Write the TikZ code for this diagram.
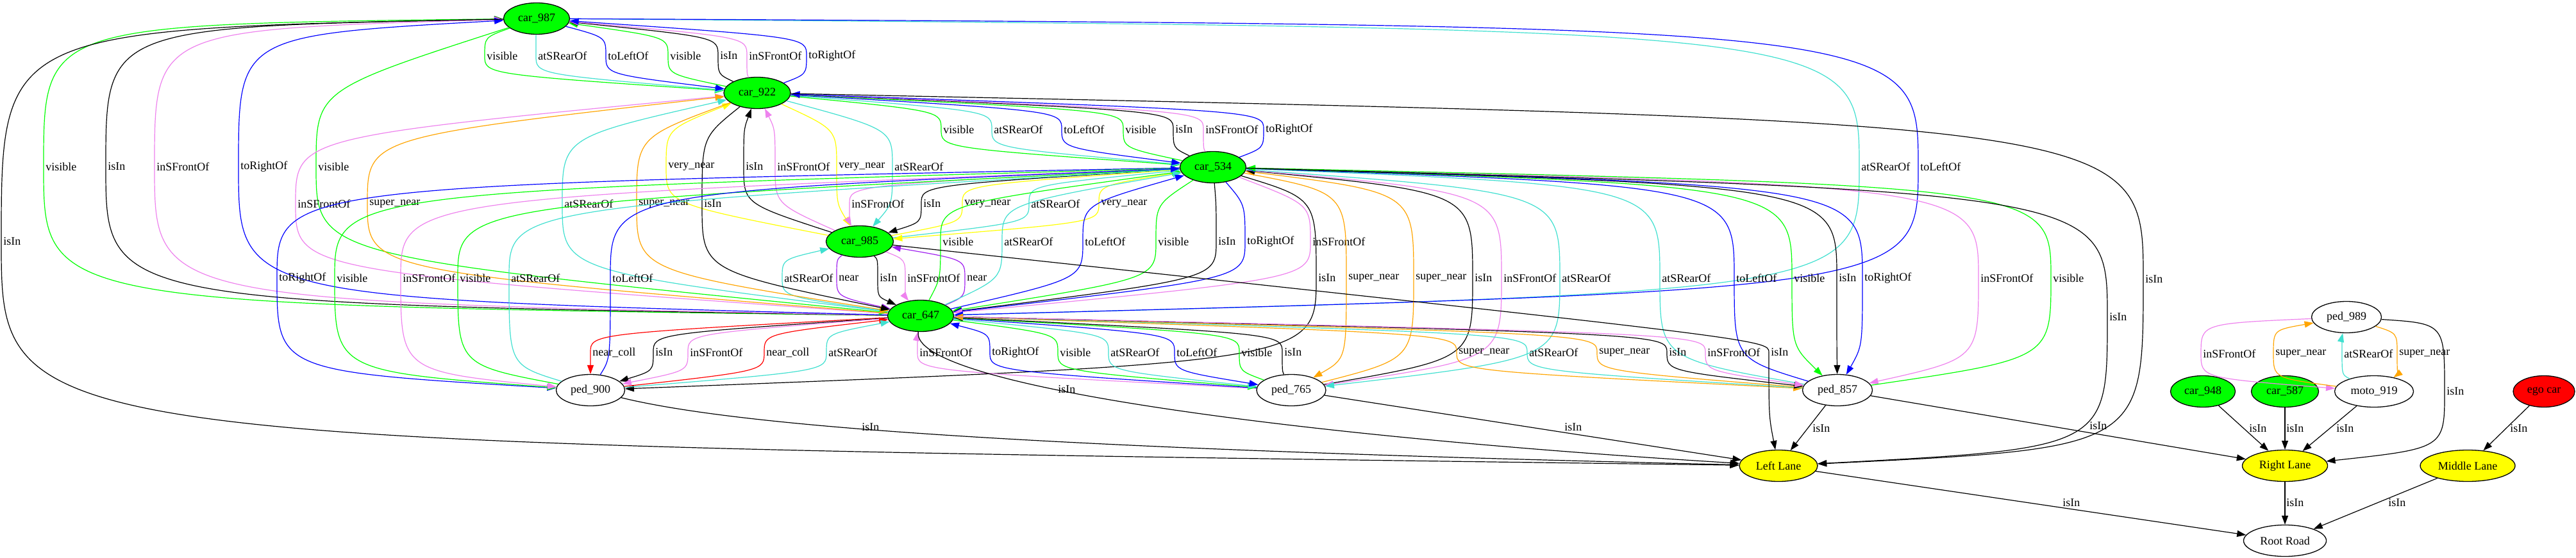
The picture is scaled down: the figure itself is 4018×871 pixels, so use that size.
\documentclass[tikz,border=0pt]{standalone}
\usepackage{fontspec}
\setmainfont{Liberation Serif}
\usetikzlibrary{arrows.meta,shapes.geometric}
\definecolor{gcol}{HTML}{00FF00}
\definecolor{tq}{HTML}{40E0D0}
\definecolor{vio}{HTML}{EE82EE}
\definecolor{org}{HTML}{FFA500}
\definecolor{pur}{HTML}{A020F0}
\definecolor{ylw}{HTML}{FFFF00}
\definecolor{blu}{HTML}{0000FF}
\definecolor{rd}{HTML}{FF0000}
\tikzset{
 nd/.style={ellipse, draw=black, line width=0.65pt, minimum height=24.5pt, inner sep=0pt, font=\fontsize{9}{10}\selectfont},
 gn/.style={nd, fill=gcol},
 yn/.style={nd, fill=ylw},
 rn/.style={nd, fill=rd},
 wn/.style={nd, fill=white},
 lab/.style={anchor=west, inner xsep=1.5pt, inner ysep=0pt, font=\fontsize{9}{10}\selectfont},
 rel/.style={line width=0.6pt, -{Triangle[length=7pt,width=5pt]}},
}
% #1 colour, #2 source, #3 label name, #4 x, #5 y, #6 text, #7 target, #8 ctrl y1, #9 ctrl y2
\newcommand{\REL}[9]{%
  \node[lab] (#3) at (#4,#5) {#6};
  \draw[rel,#1] (#2) .. controls (#4,#8) .. (#3.west) .. controls (#4,#9) .. (#7);
}
\begin{document}
\begin{tikzpicture}[x=0.5pt,y=-0.5pt]
\fill[white] (0,0) rectangle (4018,871);
\useasboundingbox (0,0) rectangle (4018,871);
% nodes
\node[gn, minimum width=51.5pt] (c987) at (837,29) {car\_987};
\node[gn, minimum width=52pt] (c922) at (1181,145) {car\_922};
\node[gn, minimum width=51.5pt] (c534) at (1892,261) {car\_534};
\node[gn, minimum width=52.5pt] (c985) at (1341,377) {car\_985};
\node[gn, minimum width=51.5pt] (c647) at (1436,493) {car\_647};
\node[wn, minimum width=53.5pt] (p900) at (921,609) {ped\_900};
\node[wn, minimum width=54pt] (p765) at (2014,609) {ped\_765};
\node[wn, minimum width=54.5pt] (p857) at (2866,609) {ped\_857};
\node[yn, minimum width=61pt] (LL) at (2774,727) {Left Lane};
\node[yn, minimum width=66.5pt] (RL) at (3564,727) {Right Lane};
\node[yn, minimum width=74pt] (ML) at (3849,727) {Middle Lane};
\node[wn, minimum width=64.5pt] (RR) at (3564,844) {Root Road};
\node[gn, minimum width=50.5pt] (c948) at (3436,611) {car\_948};
\node[gn, minimum width=52.5pt] (c587) at (3564,611) {car\_587};
\node[wn, minimum width=61.5pt] (m919) at (3703,611) {moto\_919};
\node[wn, minimum width=54.5pt] (p989) at (3660,495) {ped\_989};
\node[rn, minimum width=48pt] (ego) at (3968,611) {ego car};
% A
\REL{gcol}{c987}{l1}{756}{87}{visible}{c922}{58}{116}
\REL{tq}{c987}{l2}{836}{87}{atSRearOf}{c922}{58}{116}
\REL{blu}{c987}{l3}{945}{87}{toLeftOf}{c922}{58}{116}
\REL{gcol}{c922}{l4}{1042}{87}{visible}{c987}{116}{58}
\REL{black}{c922}{l5}{1120}{87}{isIn}{c987}{116}{58}
\REL{vio}{c922}{l6}{1165}{87}{inSFrontOf}{c987}{116}{58}
\REL{blu}{c922}{l7}{1258}{87}{toRightOf}{c987}{116}{58}
% B
\REL{gcol}{c922}{l8}{1468}{202}{visible}{c534}{173}{231}
\REL{tq}{c922}{l9}{1547}{202}{atSRearOf}{c534}{173}{231}
\REL{blu}{c922}{l10}{1656}{202}{toLeftOf}{c534}{173}{231}
\REL{gcol}{c534}{l11}{1752}{202}{visible}{c922}{231}{173}
\REL{black}{c534}{l12}{1830}{202}{isIn}{c922}{231}{173}
\REL{vio}{c534}{l13}{1877}{202}{inSFrontOf}{c922}{231}{173}
\REL{blu}{c534}{l14}{1971}{202}{toRightOf}{c922}{231}{173}
% C
\REL{ylw}{c985}{l15}{1039}{260}{very\_near}{c922}{318}{202}
\REL{black}{c985}{l16}{1160}{260}{isIn}{c922}{318}{202}
\REL{vio}{c985}{l17}{1209}{260}{inSFrontOf}{c922}{318}{202}
\REL{ylw}{c922}{l18}{1305}{260}{very\_near}{c985}{202}{318}
\REL{tq}{c922}{l19}{1392}{260}{atSRearOf}{c985}{202}{318}
% D
\REL{vio}{c534}{l20}{1325}{318}{inSFrontOf}{c985}{289}{347}
\REL{black}{c534}{l21}{1437}{318}{isIn}{c985}{289}{347}
\REL{ylw}{c985}{l22}{1501}{318}{very\_near}{c534}{347}{289}
\REL{tq}{c985}{l23}{1605}{318}{atSRearOf}{c534}{347}{289}
\REL{ylw}{c534}{l24}{1714}{318}{very\_near}{c985}{289}{347}
% E
\REL{tq}{c647}{l25}{1220}{434}{atSRearOf}{c985}{463}{405}
\REL{pur}{c985}{l26}{1305}{434}{near}{c647}{405}{463}
\REL{black}{c985}{l27}{1369}{434}{isIn}{c647}{405}{463}
\REL{vio}{c985}{l28}{1412}{434}{inSFrontOf}{c647}{405}{463}
\REL{pur}{c647}{l29}{1505}{434}{near}{c985}{463}{405}
% F
\REL{gcol}{c647}{l30}{1467}{377}{visible}{c534}{435}{319}
\REL{tq}{c647}{l31}{1563}{377}{atSRearOf}{c534}{435}{319}
\REL{blu}{c647}{l32}{1689}{377}{toLeftOf}{c534}{435}{319}
\REL{gcol}{c534}{l33}{1803}{377}{visible}{c647}{319}{435}
\REL{black}{c534}{l34}{1897}{377}{isIn}{c647}{319}{435}
\REL{blu}{c534}{l35}{1942}{377}{toRightOf}{c647}{319}{435}
\REL{vio}{c534}{l36}{2044}{377}{inSFrontOf}{c647}{319}{435}
% G
\REL{gcol}{c647}{l37}{68}{260}{visible}{c987}{475}{38}
\REL{black}{c647}{l38}{165}{260}{isIn}{c987}{473}{42}
\REL{vio}{c647}{l39}{241}{260}{inSFrontOf}{c987}{470}{46}
\REL{blu}{c647}{l40}{372}{260}{toRightOf}{c987}{465}{55}
\REL{gcol}{c987}{l41}{493}{260}{visible}{c647}{140}{400}
\REL{tq}{c987}{l42}{2900}{260}{atSRearOf}{c647}{45}{455}
\REL{blu}{c987}{l43}{2992}{260}{toLeftOf}{c647}{40}{452}
% H
\REL{vio}{c647}{l44}{461}{318}{inSFrontOf}{c922}{423}{214}
\REL{org}{c647}{l45}{573}{318}{super\_near}{c922}{423}{214}
\REL{tq}{c647}{l46}{877}{318}{atSRearOf}{c922}{423}{214}
\REL{org}{c922}{l47}{993}{318}{super\_near}{c647}{214}{423}
\REL{black}{c922}{l48}{1095}{318}{isIn}{c647}{214}{423}
% I
\REL{blu}{c534}{l49}{432}{434}{toRightOf}{p900}{290}{580}
\REL{gcol}{c534}{l50}{522}{434}{visible}{p900}{300}{580}
\REL{vio}{c534}{l51}{625}{434}{inSFrontOf}{p900}{310}{580}
\REL{gcol}{p900}{l52}{714}{434}{visible}{c534}{570}{320}
\REL{tq}{p900}{l53}{794}{434}{atSRearOf}{c534}{570}{325}
\REL{blu}{p900}{l54}{952}{434}{toLeftOf}{c534}{560}{300}
\REL{black}{c534}{l55}{2053}{434}{isIn}{p900}{310}{565}
% J
\REL{org}{c534}{l56}{2100}{434}{super\_near}{p765}{300}{560}
\REL{org}{p765}{l57}{2205}{434}{super\_near}{c534}{560}{300}
\REL{black}{p765}{l58}{2297}{434}{isIn}{c534}{560}{300}
\REL{vio}{c534}{l59}{2342}{434}{inSFrontOf}{p765}{300}{560}
\REL{tq}{c534}{l60}{2433}{434}{atSRearOf}{p765}{300}{560}
% K
\REL{tq}{p857}{l61}{2589}{434}{atSRearOf}{c534}{560}{290}
\REL{blu}{p857}{l62}{2705}{434}{toLeftOf}{c534}{560}{290}
\REL{gcol}{c534}{l63}{2795}{434}{visible}{p857}{290}{540}
\REL{black}{c534}{l64}{2865}{434}{isIn}{p857}{290}{540}
\REL{blu}{c534}{l65}{2905}{434}{toRightOf}{p857}{290}{540}
\REL{vio}{c534}{l66}{3086}{434}{inSFrontOf}{p857}{290}{560}
\REL{gcol}{p857}{l67}{3199}{434}{visible}{c534}{560}{290}
% L
\REL{rd}{c647}{l68}{921}{550}{near\_coll}{p900}{521}{579}
\REL{black}{c647}{l69}{1019}{550}{isIn}{p900}{521}{579}
\REL{vio}{c647}{l70}{1073}{550}{inSFrontOf}{p900}{521}{579}
\REL{rd}{p900}{l71}{1192}{550}{near\_coll}{c647}{579}{521}
\REL{tq}{p900}{l72}{1289}{550}{atSRearOf}{c647}{579}{521}
% M
\REL{vio}{p765}{l73}{1431}{550}{inSFrontOf}{c647}{579}{521}
\REL{blu}{p765}{l74}{1544}{550}{toRightOf}{c647}{579}{521}
\REL{gcol}{c647}{l75}{1650}{550}{visible}{p765}{521}{579}
\REL{tq}{c647}{l76}{1729}{550}{atSRearOf}{p765}{521}{579}
\REL{blu}{c647}{l77}{1832}{550}{toLeftOf}{p765}{521}{579}
\REL{gcol}{p765}{l78}{1933}{550}{visible}{c647}{579}{521}
\REL{black}{p765}{l79}{2000}{550}{isIn}{c647}{579}{521}
% N
\REL{org}{c647}{l80}{2272}{550}{super\_near}{p857}{521}{579}
\REL{tq}{p857}{l81}{2382}{550}{atSRearOf}{c647}{579}{521}
\REL{org}{p857}{l82}{2491}{550}{super\_near}{c647}{579}{521}
\REL{black}{c647}{l83}{2600}{550}{isIn}{p857}{521}{579}
\REL{vio}{c647}{l84}{2660}{550}{inSFrontOf}{p857}{521}{579}
% lanes
\REL{black}{c987}{l85}{2}{377}{isIn}{LL}{45}{690}
\REL{black}{c922}{l86}{3343}{436}{isIn}{LL}{190}{700}
\REL{black}{c534}{l87}{3287}{495}{isIn}{LL}{300}{700}
\REL{black}{c985}{l88}{2759}{550}{isIn}{LL}{530}{650}
\node[lab] (l89) at (1647,608) {isIn};
\draw[rel,black] (c647) .. controls (1420,600) and (2000,680) .. (LL);
\node[lab] (l90) at (1341,667) {isIn};
\draw[rel,black] (p900) .. controls (1150,665) and (1600,700) .. (LL);
\node[lab] (l91) at (2437,667) {isIn};
\draw[rel,black] (p765) -- (LL);
\node[lab] (l92) at (2824,669) {isIn};
\draw[rel,black] (p857) -- (LL);
\node[lab] (l93) at (3256,665) {isIn};
\draw[rel,black] (p857) -- (RL);
\node[lab] (l94) at (3505,669) {isIn};
\draw[rel,black] (c948) -- (RL);
\node[lab] (l95) at (3563,669) {isIn};
\draw[rel,black] (c587) -- (RL);
\node[lab] (l96) at (3641,669) {isIn};
\draw[rel,black] (m919) -- (RL);
\REL{black}{p989}{l97}{3813}{611}{isIn}{RL}{505}{700}
\node[lab] (l98) at (3912,669) {isIn};
\draw[rel,black] (ego) -- (ML);
\node[lab] (l99) at (3214,785) {isIn};
\draw[rel,black] (LL) -- (RR);
\node[lab] (l100) at (3563,785) {isIn};
\draw[rel,black] (RL) -- (RR);
\node[lab] (l101) at (3722,785) {isIn};
\draw[rel,black] (ML) -- (RR);
% ped_989 / moto_919
\REL{vio}{p989}{l102}{3433}{552}{inSFrontOf}{m919}{505}{590}
\REL{org}{m919}{l103}{3546}{552}{super\_near}{p989}{590}{515}
\REL{tq}{m919}{l104}{3653}{552}{atSRearOf}{p989}{585}{525}
\REL{org}{p989}{l105}{3739}{552}{super\_near}{m919}{520}{585}
\end{tikzpicture}
\end{document}
